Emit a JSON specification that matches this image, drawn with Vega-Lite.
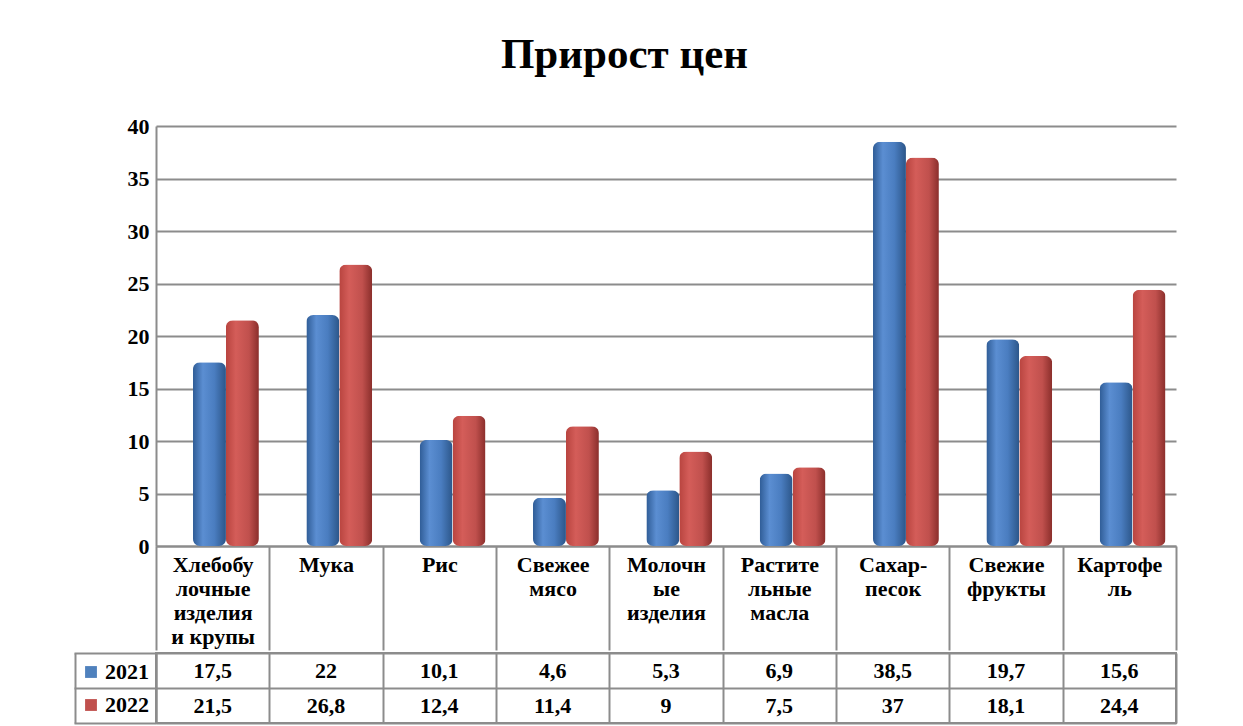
{
  "$schema": "https://vega.github.io/schema/vega-lite/v6.json",
  "padding": {"left": 72, "top": 34, "right": 20, "bottom": 0},
  "config": {
    "font": "Liberation Serif",
    "locale": {"number": {"decimal": ",", "thousands": " ", "grouping": [3], "currency": ["", ""]}},
    "view": {"stroke": null},
    "concat": {"spacing": 0}
  },
  "title": {"text": "Прирост цен", "fontSize": 43, "fontWeight": "bold", "font": "Liberation Serif", "color": "black", "offset": 38, "anchor": "middle"},
  "datasets": {
    "prices": [
      {"cat": "Хлебобу\nлочные\nизделия\nи крупы", "year": "2021", "value": 17.5},
      {"cat": "Хлебобу\nлочные\nизделия\nи крупы", "year": "2022", "value": 21.5},
      {"cat": "Мука", "year": "2021", "value": 22},
      {"cat": "Мука", "year": "2022", "value": 26.8},
      {"cat": "Рис", "year": "2021", "value": 10.1},
      {"cat": "Рис", "year": "2022", "value": 12.4},
      {"cat": "Свежее\nмясо", "year": "2021", "value": 4.6},
      {"cat": "Свежее\nмясо", "year": "2022", "value": 11.4},
      {"cat": "Молочн\nые\nизделия", "year": "2021", "value": 5.3},
      {"cat": "Молочн\nые\nизделия", "year": "2022", "value": 9},
      {"cat": "Растите\nльные\nмасла", "year": "2021", "value": 6.9},
      {"cat": "Растите\nльные\nмасла", "year": "2022", "value": 7.5},
      {"cat": "Сахар-\nпесок", "year": "2021", "value": 38.5},
      {"cat": "Сахар-\nпесок", "year": "2022", "value": 37},
      {"cat": "Свежие\nфрукты", "year": "2021", "value": 19.7},
      {"cat": "Свежие\nфрукты", "year": "2022", "value": 18.1},
      {"cat": "Картофе\nль", "year": "2021", "value": 15.6},
      {"cat": "Картофе\nль", "year": "2022", "value": 24.4}
    ]
  },
  "resolve": {"scale": {"color": "independent"}, "legend": {"color": "independent"}},
  "spacing": 0,
  "vconcat": [
    {
      "width": 1020,
      "height": 420,
      "data": {"name": "prices"},
      "encoding": {
        "x": {
          "field": "cat", "type": "nominal", "sort": null,
          "scale": {"paddingInner": 0, "paddingOuter": 0},
          "axis": {
            "title": null, "orient": "bottom",
            "domainColor": "#8c8c8c", "domainWidth": 2,
            "tickBand": "extent", "tickSize": 104, "tickColor": "#8c8c8c", "tickWidth": 2,
            "labelAngle": 0, "labelExpr": "split(datum.label, '\\n')",
            "labelFontSize": 22, "labelFontWeight": "bold", "labelColor": "black", "labelFont": "Liberation Serif",
            "labelPadding": -96, "labelLineHeight": 24, "labelBaseline": "top", "labelLimit": 0,
            "grid": false
          }
        },
        "xOffset": {"field": "year", "type": "nominal", "scale": {"domain": ["2021", "2022"], "paddingOuter": 0.72, "align": 0.78}},
        "y": {
          "field": "value", "type": "quantitative",
          "scale": {"domain": [0, 40]},
          "axis": {
            "title": null, "values": [0, 5, 10, 15, 20, 25, 30, 35, 40],
            "grid": true, "gridColor": "#8c8c8c", "gridWidth": 2,
            "domainColor": "#8c8c8c", "domainWidth": 2, "ticks": false,
            "labelFontSize": 22, "labelFontWeight": "bold", "labelColor": "black", "labelFont": "Liberation Serif",
            "labelPadding": 7
          }
        }
      },
      "layer": [
        {
          "transform": [{"filter": "datum.year == '2021'"}],
          "mark": {
            "type": "bar", "cornerRadius": 7,
            "color": {"gradient": "linear", "x1": 0, "y1": 0, "x2": 1, "y2": 0,
              "stops": [
                {"offset": 0, "color": "#2f5c96"},
                {"offset": 0.3, "color": "#5b8ed2"},
                {"offset": 0.65, "color": "#4a7dc0"},
                {"offset": 1, "color": "#2c5689"}
              ]}
          }
        },
        {
          "transform": [{"filter": "datum.year == '2022'"}],
          "mark": {
            "type": "bar", "cornerRadius": 7,
            "color": {"gradient": "linear", "x1": 0, "y1": 0, "x2": 1, "y2": 0,
              "stops": [
                {"offset": 0, "color": "#b8443f"},
                {"offset": 0.3, "color": "#d45d59"},
                {"offset": 0.7, "color": "#c0504d"},
                {"offset": 1, "color": "#8a2e2b"}
              ]}
          }
        }
      ]
    },
    {
      "width": 1020,
      "height": 70,
      "view": {"stroke": "#8c8c8c", "strokeWidth": 2},
      "data": {"name": "prices"},
      "encoding": {
        "x": {
          "field": "cat", "type": "nominal", "sort": null,
          "scale": {"paddingInner": 0, "paddingOuter": 0},
          "axis": {"title": null, "labels": false, "ticks": false, "domain": false, "grid": true, "tickBand": "extent", "gridColor": "#8c8c8c", "gridWidth": 2, "gridOpacity": 1}
        }
      },
      "resolve": {"axis": {"y": "independent"}},
      "layer": [
        {
          "mark": {"type": "square", "opacity": 0, "size": 10},
          "encoding": {
            "y": {
              "field": "year", "type": "nominal", "sort": ["2021", "2022"],
              "scale": {"paddingInner": 0, "paddingOuter": 0},
              "axis": {"title": null, "labels": false, "tickBand": "extent", "tickSize": 82, "tickColor": "#8c8c8c", "tickWidth": 2, "domainColor": "#8c8c8c", "domainWidth": 2, "grid": true, "gridColor": "#8c8c8c", "gridWidth": 2, "gridOpacity": 1}
            },
            "color": {
              "field": "year", "type": "nominal",
              "scale": {"domain": ["2021", "2022"], "range": ["#4f81bd", "#c0504d"]},
              "legend": {
                "orient": "none", "legendX": -76, "legendY": 8, "title": null,
                "symbolType": "square", "symbolSize": 140, "symbolOpacity": 1, "symbolStrokeWidth": 0,
                "labelFontSize": 22, "labelFontWeight": "bold", "labelColor": "black", "labelFont": "Liberation Serif",
                "rowPadding": 11, "labelOffset": 3, "padding": 0
              }
            }
          }
        },
        {
          "mark": {"type": "text", "fontSize": 22, "fontWeight": "bold", "color": "black", "font": "Liberation Serif"},
          "encoding": {
            "y": {
              "field": "year", "type": "nominal", "sort": ["2021", "2022"],
              "axis": {"orient": "left", "offset": 81, "title": null, "labels": false, "ticks": false, "grid": false, "domain": true, "domainColor": "#8c8c8c", "domainWidth": 2}
            },
            "text": {"field": "value", "type": "quantitative", "format": "~g"}
          }
        }
      ]
    }
  ]
}
